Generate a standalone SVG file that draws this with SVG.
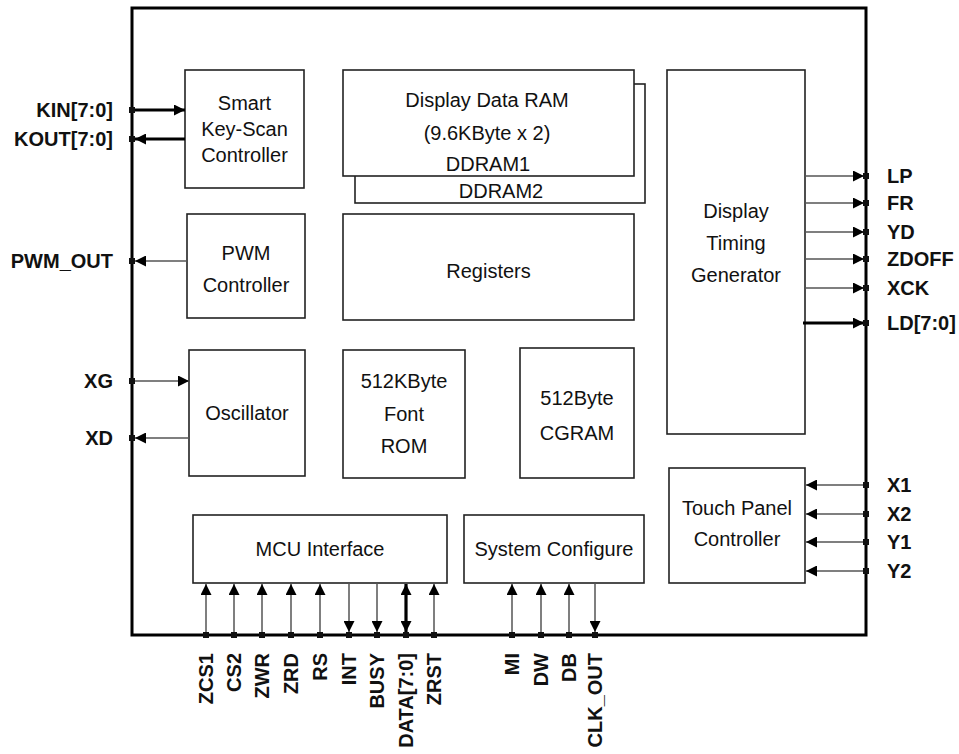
<svg xmlns="http://www.w3.org/2000/svg" width="959" height="754" viewBox="0 0 959 754">
<style>
.box{fill:#fff;stroke:#222;stroke-width:1.6}
.border{fill:none;stroke:#000;stroke-width:3}
.t{font-family:"Liberation Sans",Arial,sans-serif;font-size:20px;fill:#111;text-anchor:middle}
.p{font-family:"Liberation Sans",Arial,sans-serif;font-size:20px;font-weight:bold;fill:#111}
.l{stroke:#555;stroke-width:1.5;fill:none}
.k{stroke:#000;stroke-width:3.2;fill:none}
.pin{fill:#111}
</style>
<defs>
<marker id="ah" viewBox="0 0 10 10" refX="10" refY="5" markerWidth="11" markerHeight="11" markerUnits="userSpaceOnUse" orient="auto-start-reverse">
<path d="M0,0 L10,5 L0,10 z" fill="#000"/>
</marker>
</defs>
<rect class="border" x="132" y="8" width="734" height="627"/>

<g id="keyscan"><rect class="box" x="185" y="70" width="119" height="118"/>
<text class="t" x="244.5" y="110">Smart</text><text class="t" x="244.5" y="136">Key-Scan</text><text class="t" x="244.5" y="162">Controller</text></g>

<g id="ddram"><rect class="box" x="355" y="84" width="290" height="119"/>
<rect class="box" x="343" y="70" width="291" height="106"/>
<text class="t" x="487" y="107">Display Data RAM</text><text class="t" x="487" y="140">(9.6KByte x 2)</text>
<text class="t" x="488" y="171">DDRAM1</text><text class="t" x="501" y="198">DDRAM2</text></g>

<g id="timing"><rect class="box" x="667" y="70" width="138" height="364"/>
<text class="t" x="736" y="218">Display</text><text class="t" x="736" y="250">Timing</text><text class="t" x="736" y="282">Generator</text></g>

<g id="pwm"><rect class="box" x="187" y="214" width="118" height="104"/>
<text class="t" x="246" y="260">PWM</text><text class="t" x="246" y="292">Controller</text></g>

<g id="registers"><rect class="box" x="343" y="214" width="291" height="106"/>
<text class="t" x="488.5" y="278">Registers</text></g>

<g id="osc"><rect class="box" x="189" y="350" width="116" height="126"/>
<text class="t" x="247" y="420">Oscillator</text></g>

<g id="fontrom"><rect class="box" x="343" y="350" width="122" height="128"/>
<text class="t" x="404" y="388">512KByte</text><text class="t" x="404" y="421">Font</text><text class="t" x="404" y="453">ROM</text></g>

<g id="cgram"><rect class="box" x="520" y="348" width="114" height="130"/>
<text class="t" x="577" y="405">512Byte</text><text class="t" x="577" y="440">CGRAM</text></g>

<g id="touch"><rect class="box" x="669" y="468" width="136" height="115"/>
<text class="t" x="737" y="515">Touch Panel</text><text class="t" x="737" y="546">Controller</text></g>

<g id="mcu"><rect class="box" x="193" y="515" width="254" height="68"/>
<text class="t" x="320" y="556">MCU Interface</text></g>

<g id="sysconf"><rect class="box" x="464" y="515" width="180" height="68"/>
<text class="t" x="554" y="556">System Configure</text></g>

<g id="connectors">
<line class="k" x1="132" y1="110" x2="185" y2="110" marker-end="url(#ah)"/>
<line class="k" x1="185" y1="139" x2="135" y2="139" marker-end="url(#ah)"/>
<line class="l" x1="187" y1="261" x2="135" y2="261" marker-end="url(#ah)"/>
<line class="l" x1="132" y1="381" x2="189" y2="381" marker-end="url(#ah)"/>
<line class="l" x1="189" y1="438" x2="135" y2="438" marker-end="url(#ah)"/>

<line class="l" x1="805" y1="176" x2="864" y2="176" marker-end="url(#ah)"/>
<line class="l" x1="805" y1="203" x2="864" y2="203" marker-end="url(#ah)"/>
<line class="l" x1="805" y1="232" x2="864" y2="232" marker-end="url(#ah)"/>
<line class="l" x1="805" y1="259" x2="864" y2="259" marker-end="url(#ah)"/>
<line class="l" x1="805" y1="288" x2="864" y2="288" marker-end="url(#ah)"/>
<line class="k" x1="803" y1="323" x2="864" y2="323" marker-end="url(#ah)"/>

<line class="l" x1="866" y1="485" x2="806" y2="485" marker-end="url(#ah)"/>
<line class="l" x1="866" y1="514" x2="806" y2="514" marker-end="url(#ah)"/>
<line class="l" x1="866" y1="542" x2="806" y2="542" marker-end="url(#ah)"/>
<line class="l" x1="866" y1="571" x2="806" y2="571" marker-end="url(#ah)"/>

<line class="l" x1="206" y1="635" x2="206" y2="584" marker-end="url(#ah)"/>
<line class="l" x1="234" y1="635" x2="234" y2="584" marker-end="url(#ah)"/>
<line class="l" x1="262" y1="635" x2="262" y2="584" marker-end="url(#ah)"/>
<line class="l" x1="291" y1="635" x2="291" y2="584" marker-end="url(#ah)"/>
<line class="l" x1="320" y1="635" x2="320" y2="584" marker-end="url(#ah)"/>
<line class="l" x1="349" y1="583" x2="349" y2="632" marker-end="url(#ah)"/>
<line class="l" x1="377" y1="583" x2="377" y2="632" marker-end="url(#ah)"/>
<line class="k" x1="406" y1="584" x2="406" y2="632" marker-start="url(#ah)" marker-end="url(#ah)"/>
<line class="l" x1="434" y1="635" x2="434" y2="584" marker-end="url(#ah)"/>
<line class="l" x1="512" y1="635" x2="512" y2="584" marker-end="url(#ah)"/>
<line class="l" x1="541" y1="635" x2="541" y2="584" marker-end="url(#ah)"/>
<line class="l" x1="569" y1="635" x2="569" y2="584" marker-end="url(#ah)"/>
<line class="l" x1="595" y1="583" x2="595" y2="632" marker-end="url(#ah)"/>
</g>

<g id="pins">
<rect class="pin" x="129" y="107" width="6" height="6"/>
<rect class="pin" x="129" y="136" width="6" height="6"/>
<rect class="pin" x="129" y="258" width="6" height="6"/>
<rect class="pin" x="129" y="378" width="6" height="6"/>
<rect class="pin" x="129" y="435" width="6" height="6"/>
<rect class="pin" x="863" y="173" width="6" height="6"/>
<rect class="pin" x="863" y="200" width="6" height="6"/>
<rect class="pin" x="863" y="229" width="6" height="6"/>
<rect class="pin" x="863" y="256" width="6" height="6"/>
<rect class="pin" x="863" y="285" width="6" height="6"/>
<rect class="pin" x="863" y="320" width="6" height="6"/>
<rect class="pin" x="863" y="482" width="6" height="6"/>
<rect class="pin" x="863" y="511" width="6" height="6"/>
<rect class="pin" x="863" y="539" width="6" height="6"/>
<rect class="pin" x="863" y="568" width="6" height="6"/>
<rect class="pin" x="203" y="632" width="6" height="6"/>
<rect class="pin" x="231" y="632" width="6" height="6"/>
<rect class="pin" x="259" y="632" width="6" height="6"/>
<rect class="pin" x="288" y="632" width="6" height="6"/>
<rect class="pin" x="317" y="632" width="6" height="6"/>
<rect class="pin" x="346" y="632" width="6" height="6"/>
<rect class="pin" x="374" y="632" width="6" height="6"/>
<rect class="pin" x="403" y="632" width="6" height="6"/>
<rect class="pin" x="431" y="632" width="6" height="6"/>
<rect class="pin" x="509" y="632" width="6" height="6"/>
<rect class="pin" x="538" y="632" width="6" height="6"/>
<rect class="pin" x="566" y="632" width="6" height="6"/>
<rect class="pin" x="592" y="632" width="6" height="6"/>
</g>

<g id="labels">
<text class="p" x="113" y="117" text-anchor="end">KIN[7:0]</text>
<text class="p" x="113" y="146" text-anchor="end">KOUT[7:0]</text>
<text class="p" x="113" y="268" text-anchor="end">PWM_OUT</text>
<text class="p" x="113" y="388" text-anchor="end">XG</text>
<text class="p" x="113" y="445" text-anchor="end">XD</text>
<text class="p" x="887" y="183">LP</text>
<text class="p" x="887" y="210">FR</text>
<text class="p" x="887" y="239">YD</text>
<text class="p" x="887" y="266">ZDOFF</text>
<text class="p" x="887" y="295">XCK</text>
<text class="p" x="887" y="330">LD[7:0]</text>
<text class="p" x="887" y="492">X1</text>
<text class="p" x="887" y="521">X2</text>
<text class="p" x="887" y="549">Y1</text>
<text class="p" x="887" y="578">Y2</text>
<text class="p" text-anchor="end" transform="translate(213,653) rotate(-90)">ZCS1</text>
<text class="p" text-anchor="end" transform="translate(241,653) rotate(-90)">CS2</text>
<text class="p" text-anchor="end" transform="translate(269,653) rotate(-90)">ZWR</text>
<text class="p" text-anchor="end" transform="translate(298,653) rotate(-90)">ZRD</text>
<text class="p" text-anchor="end" transform="translate(327,653) rotate(-90)">RS</text>
<text class="p" text-anchor="end" transform="translate(356,653) rotate(-90)">INT</text>
<text class="p" text-anchor="end" transform="translate(384,653) rotate(-90)">BUSY</text>
<text class="p" text-anchor="end" transform="translate(413,653) rotate(-90)">DATA[7:0]</text>
<text class="p" text-anchor="end" transform="translate(441,653) rotate(-90)">ZRST</text>
<text class="p" text-anchor="end" transform="translate(519,653) rotate(-90)">MI</text>
<text class="p" text-anchor="end" transform="translate(548,653) rotate(-90)">DW</text>
<text class="p" text-anchor="end" transform="translate(576,653) rotate(-90)">DB</text>
<text class="p" text-anchor="end" transform="translate(602,653) rotate(-90)">CLK_OUT</text>
</g>
</svg>
